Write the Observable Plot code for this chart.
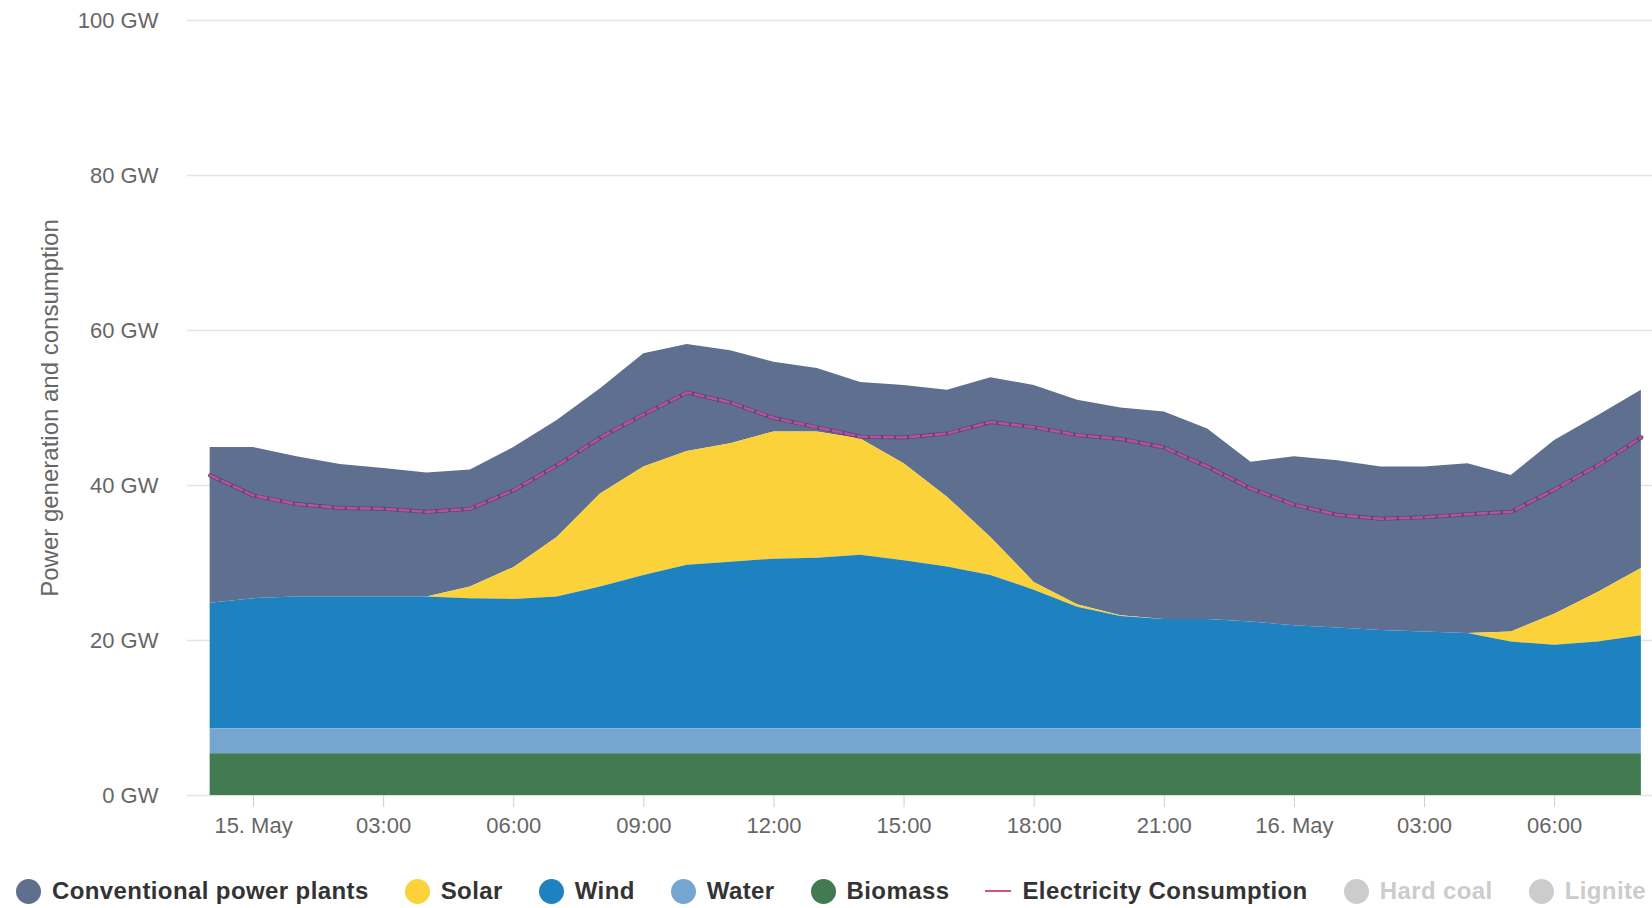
<!DOCTYPE html>
<html>
<head>
<meta charset="utf-8">
<script src="https://cdn.jsdelivr.net/npm/d3@7"></script>
<script src="https://cdn.jsdelivr.net/npm/@observablehq/plot@0.6"></script>
<style>
  html, body { margin: 0; padding: 0; background: #fff; overflow: hidden; width: 1652px; height: 908px; }
  #chart svg { display: block; }
  #legend { height: 50px; display: flex; align-items: center; white-space: nowrap; padding-left: 16px;
            font-family: "Liberation Sans", Arial, sans-serif; font-weight: bold; font-size: 24px; letter-spacing: 0.4px; color: #333; }
  .item { display: flex; align-items: center; margin-right: 36px; flex: none; }
  .dot { width: 25px; height: 25px; border-radius: 50%; margin-right: 11px; flex: none; }
  .dash { width: 26px; height: 2px; margin-right: 11px; flex: none; }
</style>
</head>
<body>
<div id="chart"></div>
<div id="legend"></div>
<script>
// Hourly values, 14 May 23:00 -> 16 May 08:00 (GW)
const conventional = [20.1,19.5,18.1,17.1,16.6,16.0,15.1,15.5,15.1,13.6,14.6,13.8,12.0,9.0,8.2,7.3,10.1,13.8,20.6,25.4,26.4,26.8,26.8,24.6,20.6,21.8,21.6,21.1,21.3,21.9,20.2,22.4,22.8,23.0];
const solar        = [0,0,0,0,0,0,1.5,4.1,7.7,12.0,14.0,14.7,15.3,16.4,16.3,15.0,12.5,9.0,4.9,1.0,0.3,0.1,0,0,0,0,0,0,0,0,1.3,4.0,6.4,8.7];
const wind         = [16.2,16.8,17.0,17.0,17.0,17.0,16.8,16.7,17.0,18.3,19.8,21.1,21.5,21.9,22.0,22.4,21.7,20.9,19.8,17.9,15.7,14.5,14.1,14.1,13.8,13.3,13.0,12.7,12.5,12.3,11.2,10.8,11.2,12.0];
const water        = [3.2,3.2,3.2,3.2,3.2,3.2,3.2,3.2,3.2,3.2,3.2,3.2,3.2,3.2,3.2,3.2,3.2,3.2,3.2,3.2,3.2,3.2,3.2,3.2,3.2,3.2,3.2,3.2,3.2,3.2,3.2,3.2,3.2,3.2];
const biomass      = [5.4,5.4,5.4,5.4,5.4,5.4,5.4,5.4,5.4,5.4,5.4,5.4,5.4,5.4,5.4,5.4,5.4,5.4,5.4,5.4,5.4,5.4,5.4,5.4,5.4,5.4,5.4,5.4,5.4,5.4,5.4,5.4,5.4,5.4];
const consumption  = [41.3,38.7,37.6,37.1,37.0,36.6,37.0,39.4,42.6,46.2,49.2,52.0,50.7,48.7,47.5,46.3,46.2,46.7,48.2,47.5,46.5,46.0,44.9,42.4,39.6,37.5,36.2,35.7,35.9,36.3,36.6,39.5,42.6,46.2];

const seriesNames  = ["Conventional power plants", "Solar", "Wind", "Water", "Biomass"];
const seriesColors = ["#5e6f8f", "#fcd23a", "#1f82c0", "#76a6d0", "#427a51"];
const hiddenNames  = ["Hard coal", "Lignite"];
const lineName     = "Electricity Consumption";

const yTicks = [0, 20, 40, 60, 80, 100];
const xTickLabels = ["15. May","03:00","06:00","09:00","12:00","15:00","18:00","21:00","16. May","03:00","06:00"];
const yTitle = "Power generation and consumption";

// time axis
const t0 = Date.UTC(2019, 4, 14, 23);
const times = conventional.map((_, i) => new Date(t0 + i * 3600e3));
const xTicks = xTickLabels.map((_, i) => new Date(Date.UTC(2019, 4, 15, 3 * i)));

const seriesValues = [conventional, solar, wind, water, biomass];
const long = [];
seriesNames.forEach((name, s) => {
  seriesValues[s].forEach((v, i) => long.push({time: times[i], value: v, series: name}));
});
const cons = consumption.map((v, i) => ({time: times[i], value: v}));

const stackOrder = seriesNames.slice().reverse(); // bottom -> top

const chart = Plot.plot({
  width: 1652,
  height: 866,
  marginLeft: 187,
  marginRight: 0,
  marginTop: 20,
  marginBottom: 71,
  style: {fontFamily: "'Liberation Sans', Arial, sans-serif", fontSize: "22px", color: "#666", background: "#fff"},
  x: {type: "utc", domain: [new Date(Date.UTC(2019, 4, 14, 22, 28, 40)), new Date(Date.UTC(2019, 4, 16, 8, 15, 24))]},
  y: {domain: [0, 100]},
  color: {domain: seriesNames, range: seriesColors},
  marks: [
    Plot.gridY(yTicks, {stroke: "#e4e4e4", strokeOpacity: 1, strokeWidth: 1.5}),
    Plot.areaY(long, {x: "time", y: "value", z: "series", fill: "series", order: stackOrder, curve: "linear"}),
    Plot.line(cons, {x: "time", y: "value", stroke: "#5a4676", strokeWidth: 4}),
    Plot.line(cons, {x: "time", y: "value", stroke: "#b8509c", strokeWidth: 2.6, strokeDasharray: "9,4"}),
    Plot.axisY(yTicks, {tickSize: 0, tickPadding: 29, tickFormat: d => `${d} GW`, label: null, fontSize: 22, fill: "#666"}),
    Plot.axisX(xTicks, {tickSize: 12, tickPadding: 10, stroke: "#cfcfcf", fill: "#666", fontSize: 22, label: null,
      tickFormat: d => xTickLabels[xTicks.findIndex(t => +t === +d)]}),
    Plot.text([yTitle], {frameAnchor: "left", textAnchor: "middle", rotate: -90, dx: -137, text: d => d, fontSize: 24, fill: "#666", style: "letter-spacing:0.3px"})
  ]
});
document.getElementById("chart").appendChild(chart);

// legend
const legend = document.getElementById("legend");
function addItem(name, color, kind, textColor) {
  const it = document.createElement("div");
  it.className = "item";
  const sym = document.createElement("div");
  sym.className = kind;
  sym.style.background = color;
  const tx = document.createElement("span");
  tx.textContent = name;
  if (textColor) tx.style.color = textColor;
  it.appendChild(sym); it.appendChild(tx);
  legend.appendChild(it);
}
seriesNames.forEach((n, i) => addItem(n, seriesColors[i], "dot"));
addItem(lineName, "#d9507a", "dash");
hiddenNames.forEach(n => addItem(n, "#cccccc", "dot", "#cccccc"));
</script>
</body>
</html>
